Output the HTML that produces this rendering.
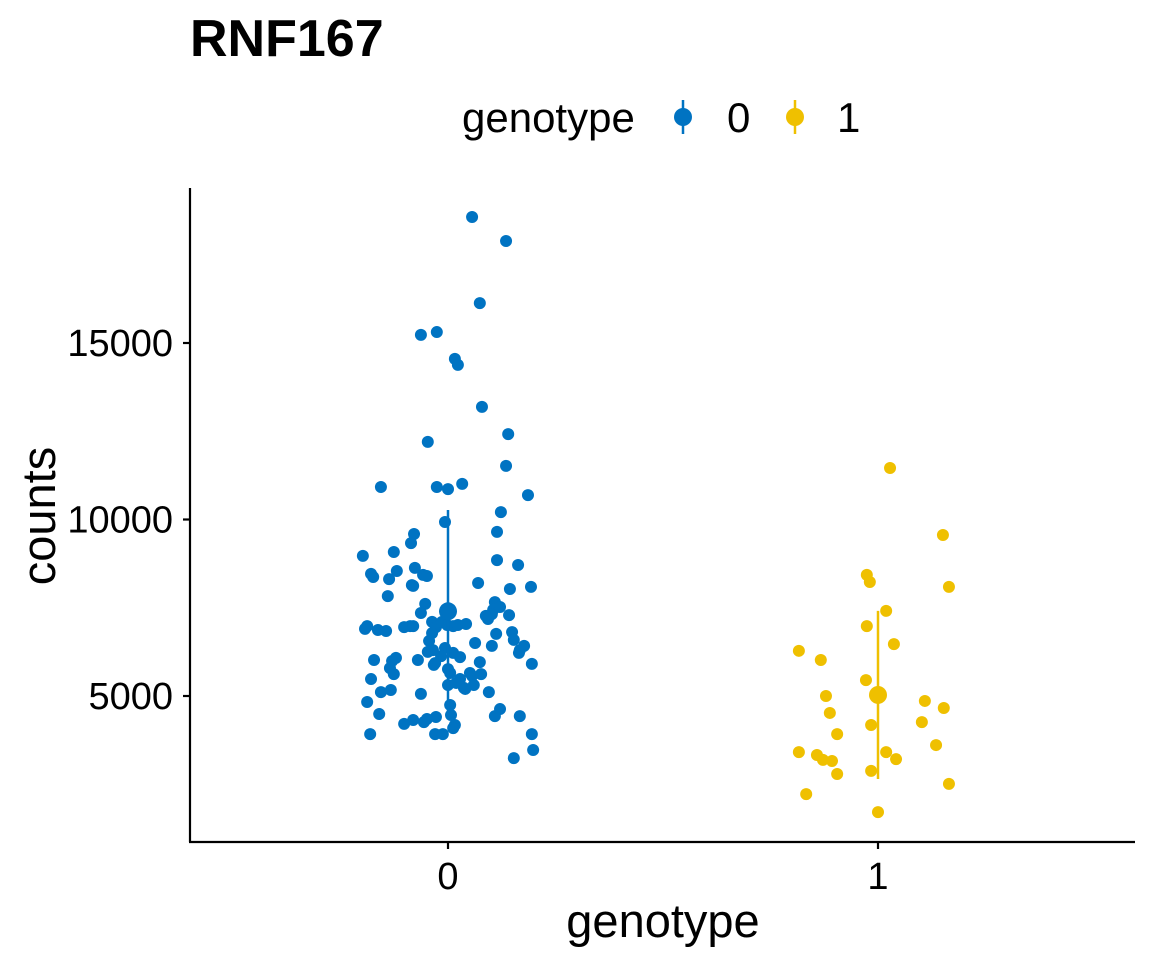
<!DOCTYPE html>
<html><head><meta charset="utf-8"><style>
html,body{margin:0;padding:0;background:#fff;}
svg text{font-family:"Liberation Sans",sans-serif;}
</style></head><body>
<svg id="chart" width="1152" height="960" xmlns="http://www.w3.org/2000/svg">
<text x="190" y="56" font-size="52" font-weight="bold" fill="#000">RNF167</text>
<g>
<text x="462" y="132" font-size="42" fill="#000">genotype</text>
<g>
<line x1="683" y1="100" x2="683" y2="134" stroke="#0073C2" stroke-width="2.5"/>
<circle cx="683" cy="117" r="9" fill="#0073C2"/>
<text x="727" y="132" font-size="42" fill="#000">0</text></g>
<g>
<line x1="795" y1="100" x2="795" y2="134" stroke="#EFC000" stroke-width="2.5"/>
<circle cx="795" cy="117" r="9" fill="#EFC000"/>
<text x="837" y="132" font-size="42" fill="#000">1</text></g>
</g>
<g id="marks"></g>
<g id="axes"></g>
<text x="663" y="937" font-size="47" text-anchor="middle" fill="#000">genotype</text>
<text transform="translate(55,516) rotate(-90)" font-size="47" text-anchor="middle" fill="#000">counts</text>
</svg>
<script>
const categories = ["0","1"];
const colors = ["#0073C2","#EFC000"];
const yTicks = [5000,10000,15000];
const jitter0 = [.056,.135,.074,-.063,-.026,.016,.023,.079,.14,-.047,.135,-.156,.033,-.026,0,.186,.123,-.007,-.079,.114,-.086,-.126,-.198,.114,.163,-.077,-.179,-.119,-.174,-.137,.07,.193,.144,-.14,-.084,-.058,-.049,-.081,-.053,-.063,.109,.105,.102,.121,.088,.093,.142,-.188,-.193,-.163,-.144,-.102,-.088,-.081,-.037,-.028,-.014,-.002,.012,.023,.042,-.037,.112,.149,.153,-.044,.063,.102,.177,.167,.165,-.007,-.035,-.047,-.016,.012,.028,-.121,-.172,-.13,-.07,-.03,.074,.195,-.033,0,.051,.056,.077,-.135,-.126,-.179,.028,0,.005,.037,.019,.06,.095,-.156,-.133,-.063,-.188,.04,.005,.121,-.16,-.028,.109,.167,-.081,-.102,-.049,-.056,.016,.007,.195,-.181,.012,-.03,-.012,.198,.153];
const values0 = [18570,17890,16130,15230,15310,14550,14380,13190,12420,12200,11520,10920,11010,10920,10860,10690,10210,9930,9590,9650,9330,9080,8970,8850,8710,8630,8460,8540,8370,8310,8200,8090,8030,7830,8140,8430,8400,8120,7610,7350,7660,7440,7320,7520,7270,7180,7290,6980,6900,6870,6840,6950,6980,6980,7100,6950,7100,7010,6980,7010,7040,6780,6760,6810,6590,6560,6500,6420,6420,6300,6220,6360,6300,6250,6130,6220,6100,6080,6020,5990,6020,5930,5960,5910,5880,5760,5650,5570,5620,5790,5620,5480,5480,5310,5650,5230,5370,5310,5110,5110,5170,5060,4830,5200,4745,4630,4490,4405,4430,4430,4320,4210,4350,4260,4180,4460,3920,3920,4090,3920,3920,3470,3240];
const jitter1 = [.028,.151,-.026,-.019,.165,.019,-.026,.037,-.184,-.133,-.028,-.121,.109,-.112,.153,.102,-.016,-.095,.135,.019,-.184,-.142,-.128,-.107,.042,-.016,-.095,.165,-.167,0];
const values1 = [11460,9560,8430,8230,8090,7410,6980,6470,6280,6020,5450,5000,4860,4520,4660,4260,4180,3920,3610,3410,3410,3330,3190,3160,3210,2880,2790,2510,2220,1710];
const means = [7400,5030];
const sds = [2870,2380];

const NS="http://www.w3.org/2000/svg";
const xS = c => 448 + c*430;
const yS = v => 696 - (v-5000)*0.0353;
const marks=document.getElementById('marks');
const axes=document.getElementById('axes');
function mk(tag,attrs,parent){const e=document.createElementNS(NS,tag);for(const k in attrs)e.setAttribute(k,attrs[k]);parent.appendChild(e);return e;}
const groups=[[jitter0,values0],[jitter1,values1]];
groups.forEach((g,gi)=>{
  g[1].forEach((v,i)=>{
    const c=mk('circle',{cx:xS(gi+g[0][i]),cy:yS(v),r:6,fill:colors[gi]},marks);
    
    
  });
});
means.forEach((m,gi)=>{
  const l=mk('line',{x1:xS(gi),x2:xS(gi),y1:yS(m+sds[gi]),y2:yS(m-sds[gi]),stroke:colors[gi],'stroke-width':2.5},marks);
  
  
  const c=mk('circle',{cx:xS(gi),cy:yS(m),r:9,fill:colors[gi]},marks);
  
  
});
mk('line',{x1:190,y1:188,x2:190,y2:842,stroke:'#000','stroke-width':2.2},axes);
mk('line',{x1:189,y1:842,x2:1135,y2:842,stroke:'#000','stroke-width':2.2},axes);
yTicks.forEach(t=>{
  mk('line',{x1:183,x2:190,y1:yS(t),y2:yS(t),stroke:'#000','stroke-width':2.2},axes);
  const tx=mk('text',{x:173,y:yS(t)+13,'font-size':38,'text-anchor':'end',fill:'#000'},axes);
  tx.textContent=t;
  
  
});
categories.forEach((c,i)=>{
  mk('line',{x1:xS(i),x2:xS(i),y1:842,y2:849,stroke:'#000','stroke-width':2.2},axes);
  const tx=mk('text',{x:xS(i),y:889,'font-size':38,'text-anchor':'middle',fill:'#000'},axes);
  tx.textContent=c;
  
  
});
</script>
</body></html>
